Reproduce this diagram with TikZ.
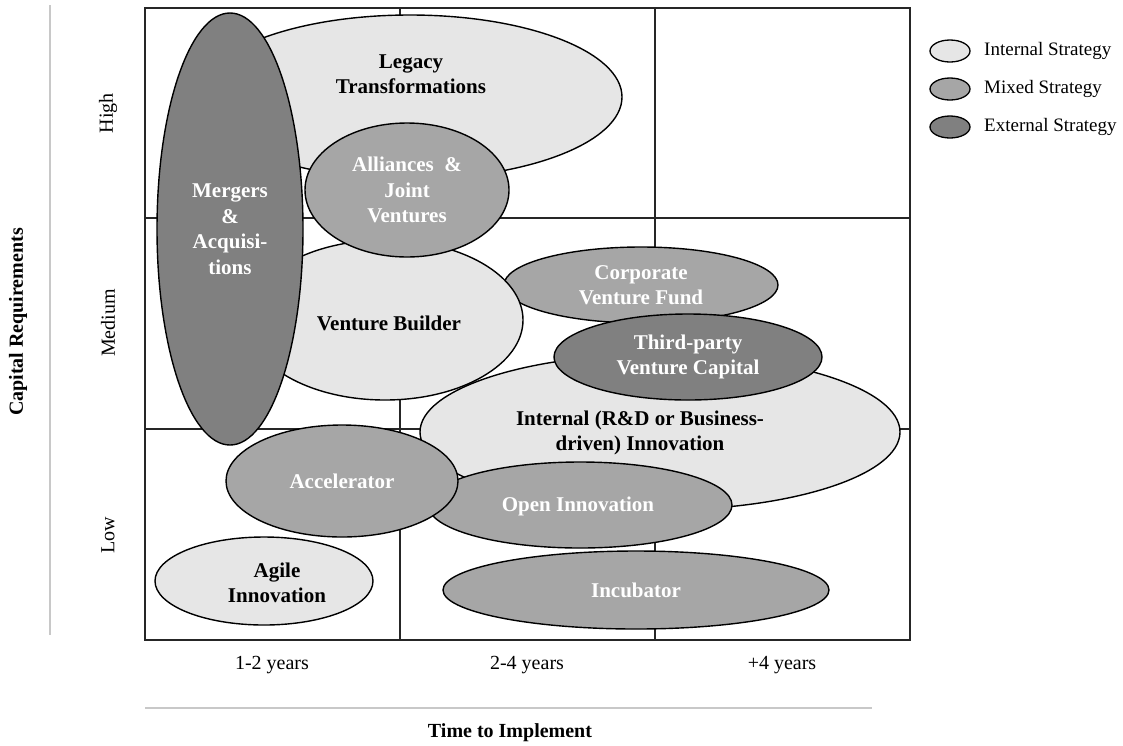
\documentclass[tikz,border=0pt]{standalone}
\usepackage{fontspec}
\setmainfont{Liberation Serif}
\usetikzlibrary{shapes.geometric}
\definecolor{intfill}{HTML}{E6E6E6}
\definecolor{mixfill}{HTML}{A6A6A6}
\definecolor{extfill}{HTML}{808080}
\definecolor{axisgray}{HTML}{C8C8C8}
\tikzset{
  blobfont/.style={font=\fontsize{21}{25.5}\selectfont\bfseries},
  blob/.style={ellipse, draw=black, line width=1.4pt, inner sep=0pt, align=center, blobfont},
  internal/.style={blob, fill=intfill, text=black},
  mixed/.style={blob, fill=mixfill, text=white},
  external/.style={blob, fill=extfill, text=white},
  legblob/.style={ellipse, draw=black, line width=1.3pt, inner sep=0pt, minimum width=40pt, minimum height=22pt},
  legtext/.style={anchor=west, inner sep=0pt, font=\fontsize{19}{22}\selectfont},
  axlabel/.style={inner sep=0pt, font=\fontsize{20}{24}\selectfont},
  axtitle/.style={inner sep=0pt, font=\fontsize{20}{24}\selectfont\bfseries},
  gridline/.style={line width=1.8pt, draw=black!85}
}
\begin{document}
\begin{tikzpicture}[x=1pt,y=-1pt]
\useasboundingbox (0,0) rectangle (1123,745);
% grid
\coordinate (g00) at (145,8);
\coordinate (g11) at (910,640);
\draw[gridline] (g00) rectangle (g11);
\coordinate (c1t) at (400,8);   \coordinate (c1b) at (400,640);
\coordinate (c2t) at (655,8);   \coordinate (c2b) at (655,640);
\coordinate (r1l) at (145,218); \coordinate (r1r) at (910,218);
\coordinate (r2l) at (145,429); \coordinate (r2r) at (910,429);
\draw[gridline] (c1t) -- (c1b);
\draw[gridline] (c2t) -- (c2b);
\draw[gridline] (r1l) -- (r1r);
\draw[gridline] (r2l) -- (r2r);

% ellipses
\node[internal, minimum width=424pt, minimum height=164pt] (legacy) at (410,97) {};
\node[blobfont, align=center] (legacyt) at (411,74) {Legacy\\Transformations};
\node[mixed, minimum width=274pt, minimum height=76pt] (cvf) at (641,285) {Corporate\\Venture Fund};
\node[internal, minimum width=276pt, minimum height=160pt] (vb) at (385,320) {};
\node[blobfont] (vbt) at (389,323) {Venture Builder};
\node[external, minimum width=146pt, minimum height=432pt] (ma) at (230,229) {Mergers\\\&\\Acquisi-\\tions};
\node[mixed, minimum width=204pt, minimum height=134pt] (aj) at (407,190) {Alliances\ \ \&\\Joint\\Ventures};
\node[internal, minimum width=480pt, minimum height=156pt] (rd) at (660,432) {};
\node[blobfont, align=center] (rdt) at (640,433) {Internal (R\&D or Business-\\driven) Innovation};
\node[external, minimum width=268pt, minimum height=86pt] (tp) at (688,357) {Third-party\\Venture Capital};
\node[mixed, minimum width=304pt, minimum height=86pt] (oi) at (580,505) {};
\node[blobfont, text=white] (oit) at (578,506) {Open Innovation};
\node[mixed, minimum width=232pt, minimum height=112pt] (acc) at (342,481) {Accelerator};
\node[internal, minimum width=218pt, minimum height=88pt] (agile) at (264,581) {};
\node[blobfont, align=center] (agilet) at (277,583) {Agile\\Innovation};
\node[mixed, minimum width=386pt, minimum height=78pt] (inc) at (636,590) {Incubator};

% legend
\node[legblob, fill=intfill] (l1) at (950,51) {};
\node[legblob, fill=mixfill] (l2) at (950,89) {};
\node[legblob, fill=extfill] (l3) at (950,127) {};
\node[legtext] (l1t) at (984,51) {Internal Strategy};
\node[legtext] (l2t) at (984,89) {Mixed Strategy};
\node[legtext] (l3t) at (984,127) {External Strategy};

% axes
\coordinate (vat) at (50,5);
\coordinate (vab) at (50,635);
\draw[axisgray, line width=1.3pt] (vat) -- (vab);
\node[axtitle, rotate=90] (cap) at (18,322) {Capital Requirements};
\node[axlabel, rotate=90] (high) at (108,113) {High};
\node[axlabel, rotate=90] (med) at (108,323) {Medium};
\node[axlabel, rotate=90] (low) at (108,535) {Low};
\node[axlabel] (y1) at (272,665) {1-2 years};
\node[axlabel] (y2) at (527,665) {2-4 years};
\node[axlabel] (y3) at (782,665) {+4 years};
\coordinate (hal) at (145,708);
\coordinate (har) at (872,708);
\draw[axisgray, line width=1.3pt] (hal) -- (har);
\node[axtitle] (time) at (510,733) {Time to Implement};
\end{tikzpicture}
\end{document}
